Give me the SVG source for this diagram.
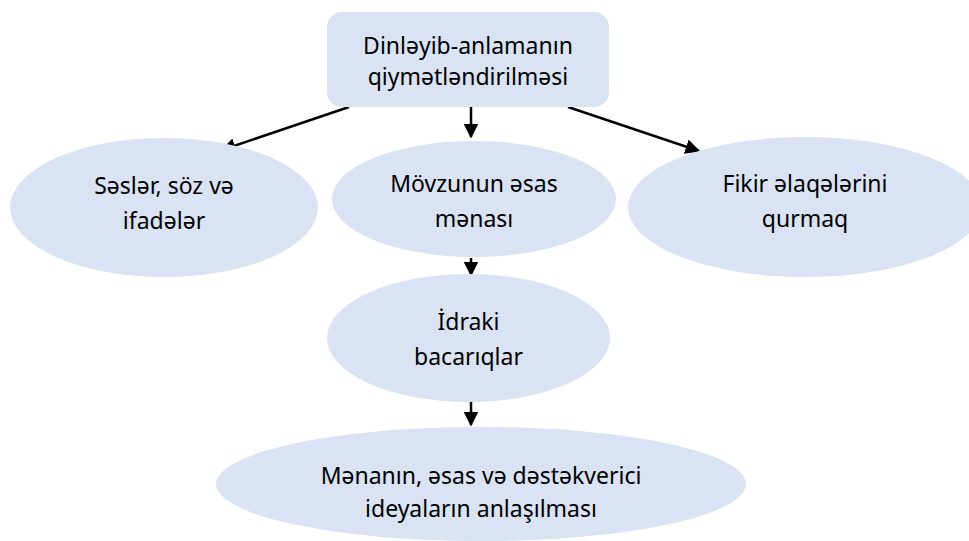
<svg xmlns="http://www.w3.org/2000/svg" width="969" height="541" viewBox="0 0 969 541">
<defs>
<style>
.n{fill:#DAE3F3;stroke:none}
.t{font-family:"Noto Sans","Open Sans",sans-serif;font-size:23px;fill:#000;text-anchor:middle}
.c{stroke:#000;stroke-width:2.5;fill:none;marker-end:url(#ah)}
</style>
<marker id="ah" viewBox="0 0 10 10" refX="9" refY="5" markerWidth="6" markerHeight="6" markerUnits="strokeWidth" orient="auto">
<path d="M0,0 L10,5 L0,10 z" fill="#000"/>
</marker>
</defs>
<rect width="969" height="541" fill="#fff"/>
<g id="connectors">
<line class="c" x1="349" y1="107" x2="222" y2="150"/>
<line class="c" x1="471" y1="107" x2="471" y2="137"/>
<line class="c" x1="568" y1="107" x2="699" y2="151"/>
<line class="c" x1="471" y1="258" x2="471" y2="275"/>
<line class="c" x1="471" y1="395" x2="471" y2="425"/>
</g>
<g id="node-top">
<rect class="n" x="327" y="12" width="282" height="95" rx="15"/>
<text class="t" x="468" y="54">Dinləyib-anlamanın</text>
<text class="t" x="468" y="85">qiymətləndirilməsi</text>
</g>
<g id="node-left">
<ellipse class="n" cx="164" cy="207.5" rx="154" ry="69.5"/>
<text class="t" x="164" y="194">Səslər, söz və</text>
<text class="t" x="164" y="229">ifadələr</text>
</g>
<g id="node-mid">
<ellipse class="n" cx="474" cy="199" rx="142" ry="58"/>
<text class="t" x="474" y="192">Mövzunun əsas</text>
<text class="t" x="474" y="227">mənası</text>
</g>
<g id="node-right">
<ellipse class="n" cx="805" cy="207" rx="177" ry="70"/>
<text class="t" x="805" y="192">Fikir əlaqələrini</text>
<text class="t" x="805" y="227">qurmaq</text>
</g>
<g id="node-idraki">
<ellipse class="n" cx="468.5" cy="338" rx="141.5" ry="64"/>
<text class="t" x="468.5" y="330">İdraki</text>
<text class="t" x="468.5" y="365">bacarıqlar</text>
</g>
<g id="node-bottom">
<ellipse class="n" cx="481" cy="484" rx="265" ry="57"/>
<text class="t" x="481" y="484">Mənanın, əsas və dəstəkverici</text>
<text class="t" x="481" y="517">ideyaların anlaşılması</text>
</g>
</svg>
